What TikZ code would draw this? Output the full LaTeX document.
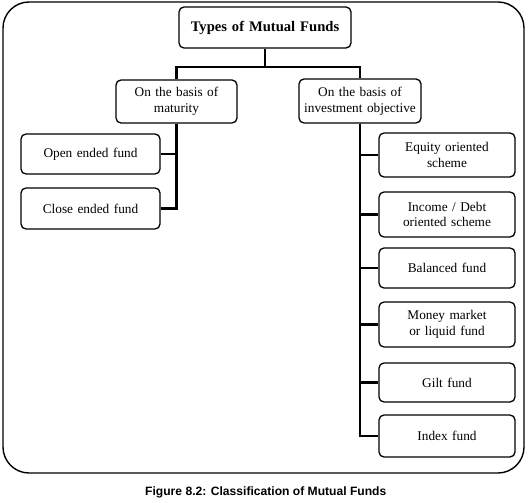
\documentclass[tikz,border=0pt]{standalone}
\usepackage{fontspec}
\setmainfont[WordSpace=1.35]{Liberation Serif}
\newfontfamily\capfont{Liberation Sans}
\begin{document}
\begin{tikzpicture}[x=1bp,y=-1bp,
  box/.style={draw, rounded corners=5bp, line width=1.3bp, align=center,
    font=\fontsize{13.3bp}{15.5bp}\selectfont, inner sep=0pt},
  conn/.style={line width=2.6bp}]
\useasboundingbox (0,0) rectangle (528,503);
% outer frame
\draw[line width=1.4bp, rounded corners=26bp] (3,2) rectangle (524,473);
% title
\node[box, font=\fontsize{14.6bp}{16bp}\selectfont\bfseries, minimum width=172bp, minimum height=41bp] (title) at (265,27.5) {Types of Mutual Funds};
% level 2
\node[box, minimum width=121bp, minimum height=43bp] (lb) at (176.5,101.5) {On the basis of\\maturity};
\node[box, minimum width=122bp, minimum height=44bp] (rb) at (360,101) {On the basis of\\investment objective};
% left children
\node[box, minimum width=139bp, minimum height=40bp] (open) at (90.5,154) {Open ended fund};
\node[box, minimum width=139bp, minimum height=41bp] (close) at (90.5,208.5) {Close ended fund};
% right children
\node[box, minimum width=136bp, minimum height=44bp] (eq) at (447,155) {Equity oriented\\scheme};
\node[box, minimum width=136bp, minimum height=45bp] (inc) at (447,214.5) {Income / Debt\\oriented scheme};
\node[box, minimum width=136bp, minimum height=40bp] (bal) at (447,268) {Balanced fund};
\node[box, minimum width=136bp, minimum height=45bp] (mm) at (447,324.5) {Money market\\or liquid fund};
\node[box, minimum width=136bp, minimum height=39bp] (gilt) at (447,382.5) {Gilt fund};
\node[box, minimum width=136bp, minimum height=42bp] (idx) at (447,436) {Index fund};
% connectors
\draw[conn] (title.south) -- (title.south |- 0,67) coordinate (jt);
\draw[conn] (lb.north) |- (jt) -| (rb.north);
\draw[conn] (lb.south) |- (open.east);
\draw[conn] (lb.south) |- (close.east);
\foreach \n in {eq,inc,bal,mm,gilt,idx}{
  \draw[conn] (rb.south) |- (\n.west);
}
% caption
\node[font=\capfont\bfseries\fontsize{12.1bp}{14bp}\selectfont, anchor=base west, inner sep=0pt] (cap) at (145,495) {Figure 8.2: Classification of Mutual Funds};
\end{tikzpicture}
\end{document}
